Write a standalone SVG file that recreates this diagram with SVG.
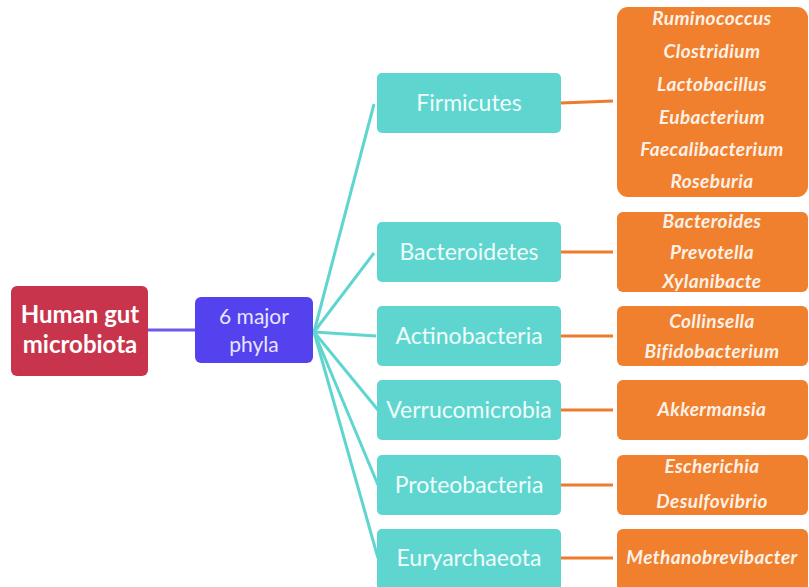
<svg xmlns="http://www.w3.org/2000/svg" width="809" height="587" viewBox="0 0 809 587">
<style>
.root{fill:#C8344B}
.mid{fill:#5442EF}
.phy{fill:#5ED6CF}
.gen{fill:#F07F2E}
.t{font-family:Lato,"Open Sans","Liberation Sans",sans-serif;fill:#fff;text-anchor:middle}
.tr{font-size:24px;font-weight:bold}
.tm{font-size:21px;fill:#E8E6FF}
.tp{font-size:23px;fill:#EFFCFB}
.tg{font-size:19px;font-style:italic;font-weight:bold;fill:#FDF1E6;letter-spacing:0.4px}
.c1{stroke:#6A5BE8;stroke-width:3;fill:none}
.c2{stroke:#5ED6CF;stroke-width:3;fill:none}
.c3{stroke:#EE7A2C;stroke-width:3;fill:none}
</style>
<rect width="809" height="587" fill="#fff"/>
<g id="connectors">
<line class="c1" x1="148" y1="330" x2="195" y2="330"/>
<line class="c2" x1="314" y1="332" x2="374" y2="104"/>
<line class="c2" x1="314" y1="332" x2="374" y2="253"/>
<line class="c2" x1="314" y1="332" x2="376" y2="336"/>
<line class="c2" x1="314" y1="332" x2="378" y2="410"/>
<line class="c2" x1="314" y1="332" x2="378" y2="485"/>
<line class="c2" x1="314" y1="332" x2="378" y2="558"/>
<line class="c3" x1="561" y1="103" x2="613" y2="101"/>
<line class="c3" x1="561" y1="252" x2="613" y2="252"/>
<line class="c3" x1="561" y1="336" x2="613" y2="336"/>
<line class="c3" x1="561" y1="410" x2="613" y2="410"/>
<line class="c3" x1="561" y1="485" x2="613" y2="485"/>
<line class="c3" x1="561" y1="558" x2="613" y2="558"/>
</g>
<g id="root"><rect class="root" x="11" y="286" width="137" height="90" rx="6"/><text class="t tr" x="80" y="323">Human gut</text><text class="t tr" x="80" y="353">microbiota</text></g>
<g id="phyla6"><rect class="mid" x="195" y="297" width="118" height="66" rx="6"/><text class="t tm" x="254" y="324">6 major</text><text class="t tm" x="254" y="352">phyla</text></g>
<g id="firmicutes"><rect class="phy" x="377" y="73" width="184" height="60" rx="5"/><text class="t tp" x="469" y="111">Firmicutes</text></g>
<g id="bacteroidetes"><rect class="phy" x="377" y="222" width="184" height="60" rx="5"/><text class="t tp" x="469" y="260">Bacteroidetes</text></g>
<g id="actinobacteria"><rect class="phy" x="377" y="306" width="184" height="60" rx="5"/><text class="t tp" x="469" y="344">Actinobacteria</text></g>
<g id="verrucomicrobia"><rect class="phy" x="377" y="380" width="184" height="60" rx="5"/><text class="t tp" x="469" y="418">Verrucomicrobia</text></g>
<g id="proteobacteria"><rect class="phy" x="377" y="455" width="184" height="60" rx="5"/><text class="t tp" x="469" y="493">Proteobacteria</text></g>
<g id="euryarchaeota"><rect class="phy" x="377" y="529" width="184" height="62" rx="5"/><text class="t tp" x="469" y="566">Euryarchaeota</text></g>
<g id="g-firmicutes"><rect class="gen" x="617" y="7" width="191" height="190" rx="11"/>
<text class="t tg" x="712" y="25">Ruminococcus</text>
<text class="t tg" x="712" y="58">Clostridium</text>
<text class="t tg" x="712" y="91">Lactobacillus</text>
<text class="t tg" x="712" y="124">Eubacterium</text>
<text class="t tg" x="712" y="156">Faecalibacterium</text>
<text class="t tg" x="712" y="188">Roseburia</text></g>
<g id="g-bacteroidetes"><rect class="gen" x="617" y="212" width="191" height="80" rx="6"/>
<text class="t tg" x="712" y="228">Bacteroides</text>
<text class="t tg" x="712" y="259">Prevotella</text>
<text class="t tg" x="712" y="288">Xylanibacte</text></g>
<g id="g-actinobacteria"><rect class="gen" x="617" y="306" width="191" height="60" rx="6"/>
<text class="t tg" x="712" y="328">Collinsella</text>
<text class="t tg" x="712" y="358">Bifidobacterium</text></g>
<g id="g-verrucomicrobia"><rect class="gen" x="617" y="380" width="191" height="60" rx="6"/>
<text class="t tg" x="712" y="416">Akkermansia</text></g>
<g id="g-proteobacteria"><rect class="gen" x="617" y="455" width="191" height="60" rx="6"/>
<text class="t tg" x="712" y="473">Escherichia</text>
<text class="t tg" x="712" y="508">Desulfovibrio</text></g>
<g id="g-euryarchaeota"><rect class="gen" x="617" y="529" width="191" height="62" rx="6"/>
<text class="t tg" x="712" y="564">Methanobrevibacter</text></g>
</svg>
